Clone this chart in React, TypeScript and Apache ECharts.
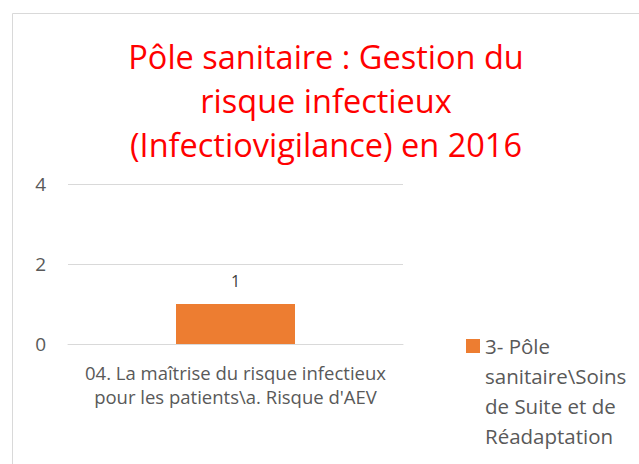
import React, { useEffect, useRef } from "react";
import * as echarts from "echarts";

const titleLines = ["Pôle sanitaire : Gestion du", "risque infectieux", "(Infectiovigilance) en 2016"];
const categories = ["04. La maîtrise du risque infectieux\npour les patients\\a. Risque d'AEV"];
const seriesName = "3- Pôle\nsanitaire\\Soins\nde Suite et de\nRéadaptation";
const values = [1];
const yTicks = { min: 0, max: 4, interval: 2 };

const FONT = "'Open Sans', 'Noto Sans', sans-serif";

export default function App() {
  const ref = useRef<HTMLDivElement>(null);
  useEffect(() => {
    document.body.style.margin = "0";
    const chart = echarts.init(ref.current!, null, { renderer: "svg" });
    chart.setOption({
      animation: false,
      backgroundColor: "#ffffff",
      textStyle: { fontFamily: FONT },
      graphic: [
        {
          type: "rect",
          shape: { x: 12.5, y: 13.5, width: 700, height: 500 },
          style: { fill: "none", stroke: "#d9d9d9", lineWidth: 1 },
          silent: true,
        },
        {
          type: "text",
          x: 326,
          y: 34,
          style: {
            text: titleLines.join("\n"),
            fill: "#ff0000",
            font: `32.5px ${FONT}`,
            lineHeight: 44,
            textAlign: "center",
            textVerticalAlign: "top",
          },
        },
      ],
      grid: { left: 68, right: 236, top: 184, bottom: 120, containLabel: false },
      legend: {
        data: [seriesName],
        left: 466,
        top: 331,
        padding: 0,
        orient: "vertical",
        icon: "path://M0,0H14V14H0Z M0,104H0.01",
        itemWidth: 14,
        itemHeight: 104,
        textStyle: {
          color: "#595959",
          fontSize: 20.5,
          fontFamily: FONT,
          lineHeight: 30,
        },
      },
      xAxis: {
        type: "category",
        data: categories,
        axisLine: { show: true, lineStyle: { color: "#d9d9d9", width: 1 } },
        axisTick: { show: false },
        axisLabel: { color: "#595959", fontSize: 18.5, lineHeight: 24, margin: 16, fontFamily: FONT },
      },
      yAxis: {
        type: "value",
        min: yTicks.min,
        max: yTicks.max,
        interval: yTicks.interval,
        axisLine: { show: false },
        axisTick: { show: false },
        splitLine: { lineStyle: { color: "#d9d9d9", width: 1 } },
        axisLabel: { color: "#595959", fontSize: 19, margin: 22, fontFamily: FONT },
      },
      series: [
        {
          name: seriesName,
          type: "bar",
          data: values,
          barWidth: 119,
          itemStyle: { color: "#ed7d31" },
          label: { show: true, position: "top", distance: 15, color: "#404040", fontSize: 16, fontFamily: FONT },
        },
      ],
    });
    return () => chart.dispose();
  }, []);
  return <div ref={ref} style={{ width: 639, height: 464 }} />;
}
